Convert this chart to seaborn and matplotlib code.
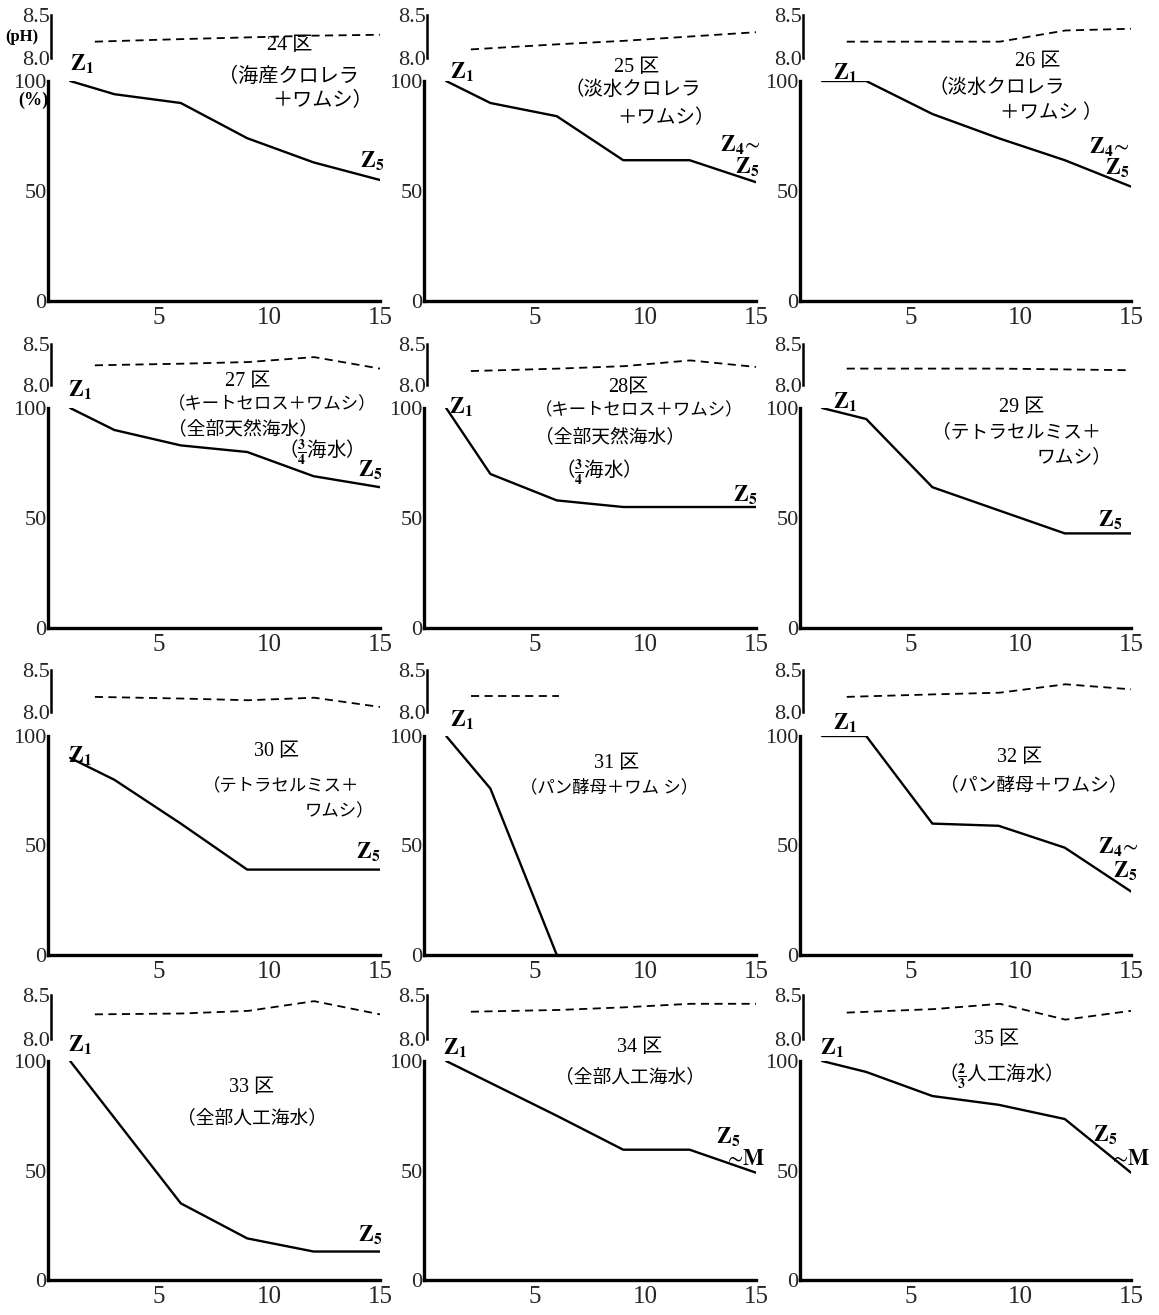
import matplotlib
matplotlib.use("Agg")
import matplotlib.pyplot as plt
import seaborn as sns

sns.set_theme(style="white")
plt.rcParams["font.family"] = ["Liberation Serif", "Noto Sans CJK JP"]
plt.rcParams["mathtext.fontset"] = "stix"

# ---------------- data ----------------
days = [1, 3, 6, 9, 12, 15]
ph_days = [2, 6, 9, 12, 15]

surv_24 = [100, 94, 90, 74, 63, 55]
surv_25 = [100, 90, 84, 64, 64, 54]
surv_26 = [100, 100, 85, 74, 64, 52]
surv_27 = [100, 90, 83, 80, 69, 64]
surv_28 = [100, 70, 58, 55, 55, 55]
surv_29 = [100, 95, 64, 53.5, 43, 43]
surv_30 = [90, 80, 60, 39, 39, 39]
days_31 = [1, 3, 6]
surv_31 = [100, 76, 0]
surv_32 = [100, 100, 60, 59, 49, 29]
surv_33 = [100, 74, 35, 19, 13, 13]
surv_34 = [100, 90, 75, 59.5, 59.5, 49]
surv_35 = [100, 95, 84, 80, 73.5, 49]

ph_24 = [8.19, 8.22, 8.24, 8.26, 8.27]
ph_25 = [8.10, 8.16, 8.20, 8.25, 8.30]
ph_26 = [8.19, 8.19, 8.19, 8.32, 8.34]
ph_27 = [8.24, 8.26, 8.28, 8.34, 8.20]
ph_28 = [8.17, 8.20, 8.23, 8.30, 8.22]
ph_29 = [8.20, 8.20, 8.20, 8.19, 8.18]
ph_30 = [8.18, 8.16, 8.14, 8.17, 8.06]
ph_days_31 = [2, 6]
ph_31 = [8.19, 8.19]
ph_32 = [8.18, 8.21, 8.23, 8.33, 8.27]
ph_33 = [8.28, 8.29, 8.32, 8.43, 8.28]
ph_34 = [8.31, 8.33, 8.36, 8.40, 8.40]
ph_35 = [8.30, 8.34, 8.40, 8.22, 8.32]

x_ticks = [5, 10, 15]
y_ticks = [0, 50, 100]
ph_ticks = [8.0, 8.5]
ph_tick_labels = ["8.0", "8.5"]

plot_titles = ["24 区", "25 区", "26 区", "27 区", "28区", "29 区",
               "30 区", "31 区", "32 区", "33 区", "34 区", "35 区"]

panels = [
    (days, surv_24, ph_days, ph_24),
    (days, surv_25, ph_days, ph_25),
    (days, surv_26, ph_days, ph_26),
    (days, surv_27, ph_days, ph_27),
    (days, surv_28, ph_days, ph_28),
    (days, surv_29, ph_days, ph_29),
    (days, surv_30, ph_days, ph_30),
    (days_31, surv_31, ph_days_31, ph_31),
    (days, surv_32, ph_days, ph_32),
    (days, surv_33, ph_days, ph_33),
    (days, surv_34, ph_days, ph_34),
    (days, surv_35, ph_days, ph_35),
]

# ---------------- layout ----------------
W, H = 1159, 1315
fig = plt.figure(figsize=(W / 100, H / 100), dpi=100)
fig.patch.set_facecolor("white")

col_x = [(48, 380), (424, 756), (800, 1131)]
row_main = [(81, 301), (408, 628), (736, 955), (1061, 1280)]
row_ph = [(15, 58), (344, 385), (670, 712), (995, 1039)]


def px_axes(l, r, t, b):
    return fig.add_axes([l / W, 1 - b / H, (r - l) / W, (b - t) / H])


def ptxt(x, y, s, ha="center", va="center", size=13, **kw):
    fig.text(x / W, 1 - y / H, s, ha=ha, va=va, fontsize=size, color="black", **kw)


for i, (dx, sv, pdx, pv) in enumerate(panels):
    r, c = divmod(i, 3)
    l, rr = col_x[c]
    t, b = row_main[r]
    ax = px_axes(l, rr, t, b)
    sns.lineplot(x=dx, y=sv, ax=ax, color="black", lw=1.7)
    ax.set_xlim(0, 15)
    ax.set_ylim(0, 100)
    ax.set_xticks(x_ticks)
    ax.set_yticks(y_ticks)
    ax.set_xlabel("")
    ax.set_ylabel("")
    for s in ["top", "right"]:
        ax.spines[s].set_visible(False)
    for s in ["left", "bottom"]:
        ax.spines[s].set_linewidth(2.4)
        ax.spines[s].set_color("black")
    ax.tick_params(axis="both", direction="in", length=4, width=1.5, color="black")
    ax.tick_params(axis="x", labelsize=18, pad=4)
    ax.tick_params(axis="y", labelsize=16, pad=1)
    ax.patch.set_alpha(0)

    pt, pb = row_ph[r]
    axp = px_axes(l + 3, rr, pt, pb)
    sns.lineplot(x=pdx, y=pv, ax=axp, color="black", lw=1.3,
                 linestyle=(0, (4.5, 3)))
    axp.set_xlim(0, 15)
    axp.set_ylim(8.0, 8.5)
    axp.set_xticks([])
    axp.set_yticks(ph_ticks)
    axp.set_yticklabels(ph_tick_labels)
    axp.set_xlabel("")
    axp.set_ylabel("")
    for s in ["top", "right", "bottom"]:
        axp.spines[s].set_visible(False)
    axp.spines["left"].set_linewidth(1.8)
    axp.spines["left"].set_color("black")
    axp.tick_params(axis="y", direction="in", length=5, width=1.5,
                    labelsize=16, pad=1, color="black")
    axp.patch.set_alpha(0)

# ---------------- annotations ----------------
cjk = ["Liberation Serif", "Noto Sans CJK JP"]
title_pos = [(290, 45), (637, 68), (1038, 62), (248, 381), (628, 388), (1022, 407),
             (277, 752), (617, 763), (1020, 757), (252, 1087), (640, 1047), (997, 1039)]
for (x, y), s in zip(title_pos, plot_titles):
    ptxt(x, y, s, size=14.5, family=cjk)

desc_lines = [
    (218, 77, "（海産クロレラ", 14.5),
    (272, 101, "＋ワムシ）", 14.5),
    (565, 90, "（淡水クロレラ", 14),
    (617, 118, "＋ワムシ）", 14),
    (928, 88, "（淡水クロレラ", 14),
    (1000, 113, "＋ワムシ ）", 14),
    (168, 405, "（キートセロス＋ワムシ）", 12.5),
    (168, 429, "（全部天然海水）", 13.5),
    (535, 411, "（キートセロス＋ワムシ）", 12.5),
    (535, 437, "（全部天然海水）", 13.5),
    (932, 432, "（テトラセルミス＋", 13.5),
    (1037, 457, "ワムシ）", 13.5),
    (203, 787, "（テトラセルミス＋", 12.5),
    (305, 812, "ワムシ）", 12.5),
    (520, 788, "（パン酵母＋ワム シ）", 12.5),
    (940, 785, "（パン酵母＋ワムシ）", 13.5),
    (177, 1118, "（全部人工海水）", 13.5),
    (555, 1077, "（全部人工海水）", 13.5),
]
for x, y, s, sz in desc_lines:
    ptxt(x, y, s, ha="left", size=sz, family=cjk)

frac_lines = [
    (278, 453, r"（$\frac{\mathbf{3}}{\mathbf{4}}$海水）"),
    (555, 473, r"（$\frac{\mathbf{3}}{\mathbf{4}}$海水）"),
    (938, 1077, r"（$\frac{\mathbf{2}}{\mathbf{3}}$人工海水）"),
]
for x, y, s in frac_lines:
    ptxt(x, y, s, ha="left", size=14, family="Noto Sans CJK JP")

z1 = r"$\mathbf{Z_1}$"
z5 = r"$\mathbf{Z_5}$"
z4 = r"$\mathbf{Z_4}\!\sim$"
zm = r"$\sim\!\mathbf{M}$"
z_labels = [
    (82, 64, z1), (372, 161, z5),
    (462, 72, z1), (740, 145, z4), (747, 167, z5),
    (845, 73, z1), (1109, 147, z4), (1117, 168, z5),
    (80, 390, z1), (370, 470, z5),
    (461, 407, z1), (745, 495, z5),
    (845, 402, z1), (1110, 520, z5),
    (80, 756, z1), (368, 852, z5),
    (462, 720, z1),
    (845, 723, z1), (1118, 847, z4), (1125, 871, z5),
    (80, 1045, z1), (370, 1235, z5),
    (455, 1048, z1), (728, 1137, z5), (745, 1160, zm),
    (832, 1048, z1), (1105, 1135, z5), (1130, 1160, zm),
]
for x, y, s in z_labels:
    ptxt(x, y, s, size=16)

ptxt(22, 37, "(pH)", size=12, weight="bold")
ptxt(33, 100, "(%)", size=13, weight="bold")

fig.savefig("out.png", dpi=100, facecolor="white")
